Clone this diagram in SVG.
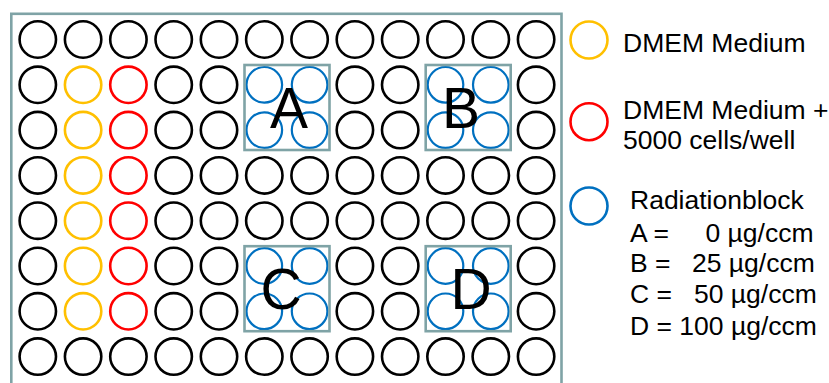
<svg xmlns="http://www.w3.org/2000/svg" width="829" height="383" viewBox="0 0 829 383">
<style>
.w{fill:none;stroke:#000;stroke-width:2.6}
.y{fill:none;stroke:#FFC000;stroke-width:2.6}
.r{fill:none;stroke:#FF0000;stroke-width:2.6}
.b{fill:none;stroke:#0070C0;stroke-width:2.2}
.box{fill:none;stroke:#7FA3A6;stroke-width:2.6}
.lbl{font-family:"Liberation Sans",Arial,sans-serif;font-size:57px;fill:#000;text-anchor:middle}
.t{font-family:"Liberation Sans",Arial,sans-serif;font-size:26.5px;fill:#000}
</style>
<defs>
<circle id="w" r="18.2" class="w"/>
<circle id="y" r="18.2" class="y"/>
<circle id="r" r="18.2" class="r"/>
<circle id="b" r="17.8" class="b"/>
</defs>
<rect id="plate" x="11.3" y="13.8" width="550.2" height="400" fill="#fff" stroke="#7FA3A6" stroke-width="2.6"/>
<g id="wells">
<!-- row 0 -->
<g transform="translate(0,39.5)">
<use href="#w" x="37.8"/><use href="#w" x="83.1"/><use href="#w" x="128.4"/><use href="#w" x="173.7"/><use href="#w" x="219"/><use href="#w" x="264.3"/><use href="#w" x="309.6"/><use href="#w" x="354.9"/><use href="#w" x="400.2"/><use href="#w" x="445.5"/><use href="#w" x="490.8"/><use href="#w" x="536.1"/>
</g>
<!-- row 1 -->
<g transform="translate(0,84.8)">
<use href="#w" x="37.8"/><use href="#y" x="83.1"/><use href="#r" x="128.4"/><use href="#w" x="173.7"/><use href="#w" x="219"/><use href="#b" x="264.3"/><use href="#b" x="309.6"/><use href="#w" x="354.9"/><use href="#w" x="400.2"/><use href="#b" x="445.5"/><use href="#b" x="490.8"/><use href="#w" x="536.1"/>
</g>
<!-- row 2 -->
<g transform="translate(0,130.1)">
<use href="#w" x="37.8"/><use href="#y" x="83.1"/><use href="#r" x="128.4"/><use href="#w" x="173.7"/><use href="#w" x="219"/><use href="#b" x="264.3"/><use href="#b" x="309.6"/><use href="#w" x="354.9"/><use href="#w" x="400.2"/><use href="#b" x="445.5"/><use href="#b" x="490.8"/><use href="#w" x="536.1"/>
</g>
<!-- row 3 -->
<g transform="translate(0,175.4)">
<use href="#w" x="37.8"/><use href="#y" x="83.1"/><use href="#r" x="128.4"/><use href="#w" x="173.7"/><use href="#w" x="219"/><use href="#w" x="264.3"/><use href="#w" x="309.6"/><use href="#w" x="354.9"/><use href="#w" x="400.2"/><use href="#w" x="445.5"/><use href="#w" x="490.8"/><use href="#w" x="536.1"/>
</g>
<!-- row 4 -->
<g transform="translate(0,220.7)">
<use href="#w" x="37.8"/><use href="#y" x="83.1"/><use href="#r" x="128.4"/><use href="#w" x="173.7"/><use href="#w" x="219"/><use href="#w" x="264.3"/><use href="#w" x="309.6"/><use href="#w" x="354.9"/><use href="#w" x="400.2"/><use href="#w" x="445.5"/><use href="#w" x="490.8"/><use href="#w" x="536.1"/>
</g>
<!-- row 5 -->
<g transform="translate(0,266)">
<use href="#w" x="37.8"/><use href="#y" x="83.1"/><use href="#r" x="128.4"/><use href="#w" x="173.7"/><use href="#w" x="219"/><use href="#b" x="264.3"/><use href="#b" x="309.6"/><use href="#w" x="354.9"/><use href="#w" x="400.2"/><use href="#b" x="445.5"/><use href="#b" x="490.8"/><use href="#w" x="536.1"/>
</g>
<!-- row 6 -->
<g transform="translate(0,311.3)">
<use href="#w" x="37.8"/><use href="#y" x="83.1"/><use href="#r" x="128.4"/><use href="#w" x="173.7"/><use href="#w" x="219"/><use href="#b" x="264.3"/><use href="#b" x="309.6"/><use href="#w" x="354.9"/><use href="#w" x="400.2"/><use href="#b" x="445.5"/><use href="#b" x="490.8"/><use href="#w" x="536.1"/>
</g>
<!-- row 7 -->
<g transform="translate(0,356.6)">
<use href="#w" x="37.8"/><use href="#w" x="83.1"/><use href="#w" x="128.4"/><use href="#w" x="173.7"/><use href="#w" x="219"/><use href="#w" x="264.3"/><use href="#w" x="309.6"/><use href="#w" x="354.9"/><use href="#w" x="400.2"/><use href="#w" x="445.5"/><use href="#w" x="490.8"/><use href="#w" x="536.1"/>
</g>
</g>
<g id="blockA"><rect class="box" x="244.5" y="65" width="85" height="85"/><text class="lbl" x="289" y="128">A</text></g>
<g id="blockB"><rect class="box" x="425.7" y="65" width="85" height="85"/><text class="lbl" x="461" y="128">B</text></g>
<g id="blockC"><rect class="box" x="244.5" y="246.2" width="85" height="85"/><text class="lbl" x="281" y="309">C</text></g>
<g id="blockD"><rect class="box" x="425.7" y="246.2" width="85" height="85"/><text class="lbl" x="471" y="309">D</text></g>
<g id="legend">
<circle cx="589" cy="40" r="18.5" class="y"/>
<text class="t" x="623" y="51.7">DMEM Medium</text>
<circle cx="589" cy="121.7" r="18.5" class="r"/>
<text class="t" x="623" y="119">DMEM Medium +</text>
<text class="t" x="623" y="149">5000 cells/well</text>
<circle cx="589" cy="206" r="18.5" class="b" style="stroke-width:2.6"/>
<text class="t" x="630" y="209.3">Radiationblock</text>
<text class="t" y="241.7"><tspan x="630">A =</tspan><tspan x="705.5">0 µg/ccm</tspan></text>
<text class="t" y="272.3"><tspan x="630">B =</tspan><tspan x="692">25 µg/ccm</tspan></text>
<text class="t" y="303.3"><tspan x="630">C =</tspan><tspan x="694">50 µg/ccm</tspan></text>
<text class="t" x="630" y="335">D = 100 µg/ccm</text>
</g>
</svg>
